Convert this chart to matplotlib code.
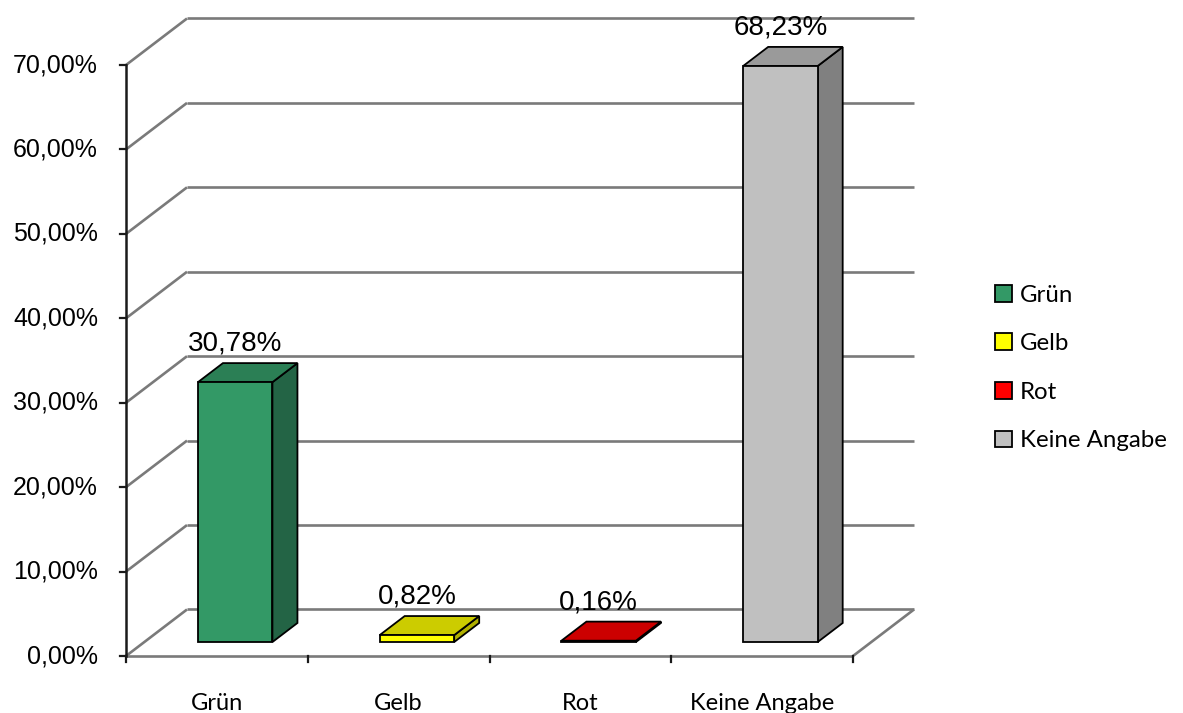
import matplotlib
matplotlib.use("Agg")
import matplotlib.pyplot as plt
from matplotlib.patches import Polygon, Patch

# --- data -------------------------------------------------------------
categories = ["Grün", "Gelb", "Rot", "Keine Angabe"]
values = [30.78, 0.82, 0.16, 68.23]
value_labels = ["30,78%", "0,82%", "0,16%", "68,23%"]
y_ticks = [0, 10, 20, 30, 40, 50, 60, 70]
y_tick_labels = ["0,00%", "10,00%", "20,00%", "30,00%",
                 "40,00%", "50,00%", "60,00%", "70,00%"]

front_colors = ["#339966", "#ffff00", "#ff0000", "#c0c0c0"]
top_colors = ["#2b7f55", "#cccc00", "#cc0000", "#9a9a9a"]
side_colors = ["#236445", "#b0b000", "#a00000", "#808080"]

# --- oblique projection settings (in data units) -----------------------
DX, DY = 0.3356, 5.51        # offset of the back wall relative to the front
BAR_FRONT, BAR_BACK = 0.30, 0.71   # bar depth position as fraction of floor depth
BAR_WIDTH = 0.41
N = len(categories)

W, H = 1183, 713
fig = plt.figure(figsize=(W / 100, H / 100), dpi=100)
ax = fig.add_axes([0, 0, 1, 1])
ax.set_xlim(-0.6933, 5.8157)
ax.set_ylim(-6.751, 77.70)
ax.axis("off")

grid_kw = dict(color="#7a7a7a", lw=1.9, solid_capstyle="butt", zorder=1)

# walls: gridlines on the left wall and on the back wall
for t in y_ticks:
    ax.plot([0, DX], [t, t + DY], **grid_kw)
    ax.plot([DX, N + DX], [t + DY, t + DY], **grid_kw)

# floor edges
ax.plot([0, N], [0, 0], **grid_kw)
ax.plot([N, N + DX], [0, DY], **grid_kw)

# value axis with tick marks and labels
ax.plot([0, 0], [0, max(y_ticks)], color="#1a1a1a", lw=1.8, zorder=2)
for t, lab in zip(y_ticks, y_tick_labels):
    ax.plot([-0.034, 0], [t, t], color="#1a1a1a", lw=1.6, zorder=2)
    ax.text(-0.154, t, lab, ha="right", va="center",
            fontsize=18, family="Liberation Sans", color="black")

# category axis ticks and labels
for k in range(N + 1):
    ax.plot([k, k], [0, -0.75], color="#1a1a1a", lw=1.6, zorder=2)
for i, cat in enumerate(categories):
    ax.text(i + 0.5, -6.35, cat, ha="center", va="baseline",
            fontsize=17, family="Lato", color="black")

# 3D-looking bars
edge_kw = dict(edgecolor="black", lw=1.3, joinstyle="miter")
for i, v in enumerate(values):
    x0 = i + 0.5 - BAR_WIDTH / 2 + BAR_FRONT * DX
    x1 = x0 + BAR_WIDTH
    y0 = BAR_FRONT * DY
    y1 = y0 + v
    ddx = (BAR_BACK - BAR_FRONT) * DX
    ddy = (BAR_BACK - BAR_FRONT) * DY
    side = Polygon([(x1, y0), (x1 + ddx, y0 + ddy), (x1 + ddx, y1 + ddy), (x1, y1)],
                   closed=True, facecolor=side_colors[i], zorder=3, **edge_kw)
    top = Polygon([(x0, y1), (x1, y1), (x1 + ddx, y1 + ddy), (x0 + ddx, y1 + ddy)],
                  closed=True, facecolor=top_colors[i], zorder=3, **edge_kw)
    front = Polygon([(x0, y0), (x1, y0), (x1, y1), (x0, y1)],
                    closed=True, facecolor=front_colors[i], zorder=4, **edge_kw)
    for p in (side, top, front):
        ax.add_patch(p)
    ax.text((x0 + x1) / 2, y1 + ddy + 1.45, value_labels[i], ha="center",
            va="baseline", fontsize=20, family="Liberation Sans",
            color="black", zorder=5)

# legend
handles = [Patch(facecolor=c, edgecolor="black", lw=1.3) for c in front_colors]
fig.legend(handles, categories, loc="center left",
           bbox_to_anchor=(995 / W, 1 - 368 / H), frameon=False,
           prop=dict(family="Lato", size=17.3), handlelength=0.7,
           handleheight=0.7, handletextpad=0.35, labelspacing=1.15,
           borderpad=0, borderaxespad=0)

fig.savefig("out.png", dpi=100)
